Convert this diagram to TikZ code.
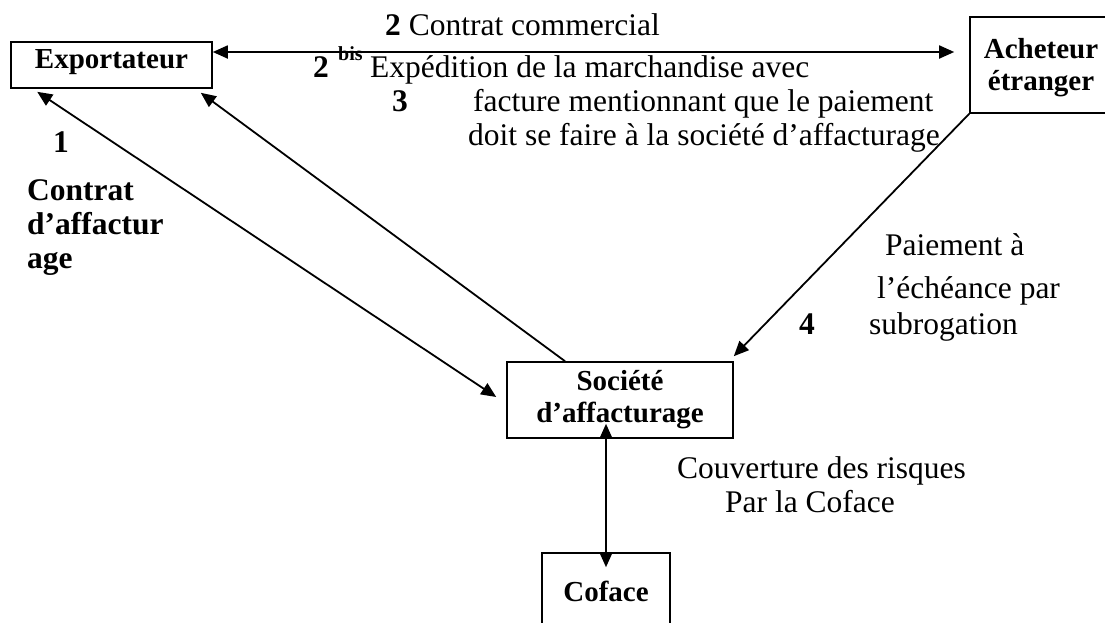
\documentclass[tikz,border=0pt]{standalone}
\usepackage{fontspec}
\setmainfont{Liberation Serif}
\usetikzlibrary{arrows.meta}
\tikzset{ftip/.tip={Triangle[length=15pt,width=13pt]}}
\begin{document}
\begin{tikzpicture}[x=1pt,y=-1pt,
  every node/.style={font=\fontsize{31.5}{36}\selectfont, inner sep=0pt},
  box/.style={draw, line width=1.6pt},
  boxtext/.style={align=center, font=\fontsize{29}{32}\selectfont\bfseries},
  lbl/.style={anchor=base west},
  blbl/.style={anchor=base west, font=\fontsize{31.5}{36}\selectfont\bfseries},
  conn/.style={line width=1.8pt}
]
\useasboundingbox (0,0) rectangle (1105,622);

% parties
\node[box, boxtext, text depth=12pt, minimum width=201pt, minimum height=46pt] (exp) at (111.5,65) {Exportateur};
\node[box, minimum width=142pt, minimum height=96pt] (ach) at (1041,65) {};
\node[boxtext] (acht) at (1041,68) {Acheteur\\étranger};
\node[box, boxtext, minimum width=226pt, minimum height=76pt] (soc) at (620,400) {Société\\d’affacturage};
\node[box, boxtext, minimum width=128pt, minimum height=77pt] (cof) at (606,591.5) {Coface};

% flows
\coordinate (hline) at (0,52);
\draw[conn, ftip-ftip, shorten >=15pt] (exp.east |- hline) -- (ach.west |- hline);
\draw[conn, ftip-ftip] ([xshift=27pt,yshift=-3pt]exp.south west) -- ([xshift=-10pt,yshift=3pt]soc.west);
\draw[conn, -ftip] ([xshift=-55pt]soc.north) -- ([xshift=-12pt,yshift=-4pt]exp.south east);
\draw[conn, -ftip] (ach.south west) -- ([yshift=5pt]soc.north east);
\coordinate (up) at ([yshift=15pt]soc.south);
\draw[conn, ftip-ftip] (up -| cof.north) -- ([yshift=-15pt]cof.north);

% labels
\node[lbl] (t2) at (385,35) {\textbf{2} Contrat commercial};
\node[blbl] (t2b) at (313,77) {2};
\node[lbl, font=\fontsize{20}{24}\selectfont\bfseries] (tbis) at (338,60) {bis};
\node[lbl] (texp) at (370,77) {Expédition de la marchandise avec};
\node[blbl] (t3) at (392,111) {3};
\node[lbl] (tfac) at (473,111) {facture mentionnant que le paiement};
\node[lbl] (tdoit) at (468,145) {doit se faire à la société d’affacturage};
\node[blbl] (t1) at (53,152) {1};
\node[blbl] (tca) at (27,200) {Contrat};
\node[blbl] (tcb) at (27,234) {d’affactur};
\node[blbl] (tcc) at (27,268) {age};
\node[lbl] (tpa) at (885,255) {Paiement à};
\node[lbl] (tpb) at (877,298) {l’échéance par};
\node[blbl] (t4) at (799,334) {4};
\node[lbl] (tpc) at (869,334) {subrogation};
\node[lbl] (tcov) at (677,478) {Couverture des risques};
\node[lbl] (tcof) at (725,512) {Par la Coface};
\end{tikzpicture}
\end{document}
